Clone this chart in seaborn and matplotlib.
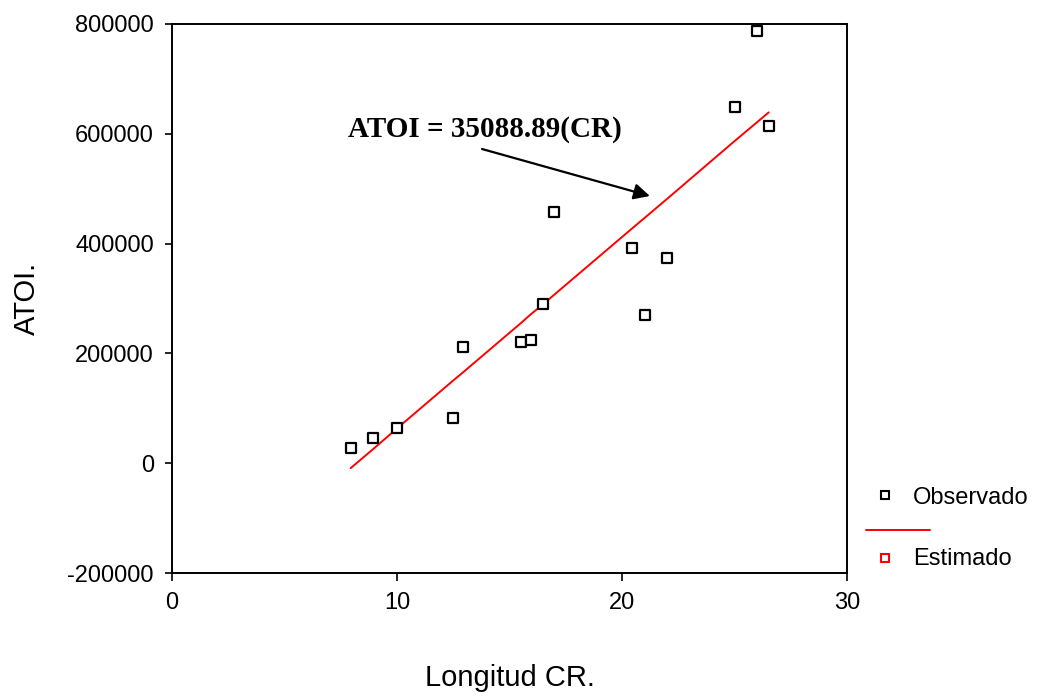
import matplotlib
matplotlib.use("Agg")
import matplotlib.pyplot as plt
from matplotlib.lines import Line2D
import seaborn as sns
import pandas as pd

# Data
longitud_cr = [7.94, 8.92, 9.99, 12.48, 12.92, 15.50, 15.94, 16.48, 16.99,
               20.46, 21.01, 21.99, 25.01, 26.00, 26.52]
atoi_observado = [27000, 45500, 63500, 82000, 212000, 220000, 224000, 289500,
                  457000, 391500, 270500, 373000, 649500, 788000, 614000]
atoi_estimado = [-9000, 25000, 63000, 150000, 165000, 255000, 271000, 289000,
                 307000, 428000, 447000, 481000, 587000, 621000, 639000]

x_ticks = [0, 10, 20, 30]
y_ticks = [-200000, 0, 200000, 400000, 600000, 800000]
equation_label = "ATOI = 35088.89(CR)"

df = pd.DataFrame({"x": longitud_cr, "obs": atoi_observado, "est": atoi_estimado})

sns.set_style("ticks")
plt.rcParams["font.family"] = ["Liberation Sans", "DejaVu Sans"]
plt.rcParams["text.color"] = "black"
plt.rcParams["axes.labelcolor"] = "black"
plt.rcParams["xtick.color"] = "black"
plt.rcParams["ytick.color"] = "black"

fig = plt.figure(figsize=(10.41, 6.98), dpi=100)
ax = fig.add_axes([172 / 1041, 1 - 573 / 698, (847 - 172) / 1041, (573 - 24) / 698])

sns.lineplot(data=df, x="x", y="est", ax=ax, color="#ff0000", linewidth=1.4,
             estimator=None, sort=True, legend=False)
sns.scatterplot(data=df, x="x", y="obs", ax=ax, marker="s", s=50,
                facecolor="white", edgecolor="black", linewidth=1.6, legend=False,
                zorder=3)

ax.set_xlim(0, 30)
ax.set_ylim(-200000, 800000)
ax.set_xticks(x_ticks)
ax.set_yticks(y_ticks)
ax.set_xticklabels([str(v) for v in x_ticks])
ax.set_yticklabels([str(v) for v in y_ticks])
ax.tick_params(axis="x", labelsize=17, length=6, width=1.2, pad=8, color="black",
               labelcolor="black")
ax.tick_params(axis="y", labelsize=17, length=5, width=1.2, pad=8, color="black",
               labelcolor="black")
for s in ax.spines.values():
    s.set_visible(True)
    s.set_linewidth(1.4)
    s.set_color("black")

ax.set_xlabel("Longitud CR.", fontsize=21, labelpad=36, color="black")
ax.set_ylabel("ATOI.", fontsize=21, labelpad=19, color="black")

# Equation annotation with arrow
ax.text(7.82, 607000, equation_label, fontsize=21, fontweight="bold", color="black",
        family=["Liberation Serif", "DejaVu Serif"], ha="left", va="center")
ax.annotate("", xy=(21.24, 486700), xytext=(13.78, 572300),
            arrowprops=dict(arrowstyle="-|>", color="black", lw=1.6,
                            mutation_scale=24, shrinkA=0, shrinkB=0))

# Legend drawn outside the axes (SPSS style)
def fx(px):
    return px / 1041

def fy(py):
    return 1 - py / 698

fig.add_artist(Line2D([fx(885)], [fy(495)], transform=fig.transFigure, marker="s",
                      markersize=6, markerfacecolor="white", markeredgecolor="black",
                      markeredgewidth=1.5, linestyle="none"))
fig.text(fx(913), fy(498), "Observado", fontsize=17, va="center", ha="left", color="black")
fig.add_artist(Line2D([fx(866), fx(930)], [fy(530), fy(530)], transform=fig.transFigure,
                      color="#ff0000", linewidth=1.4))
fig.add_artist(Line2D([fx(885)], [fy(558)], transform=fig.transFigure, marker="s",
                      markersize=6, markerfacecolor="white", markeredgecolor="#ff0000",
                      markeredgewidth=1.5, linestyle="none"))
fig.text(fx(913), fy(559), "Estimado", fontsize=17, va="center", ha="left", color="black")

fig.savefig("out.png", dpi=100, facecolor="white")
